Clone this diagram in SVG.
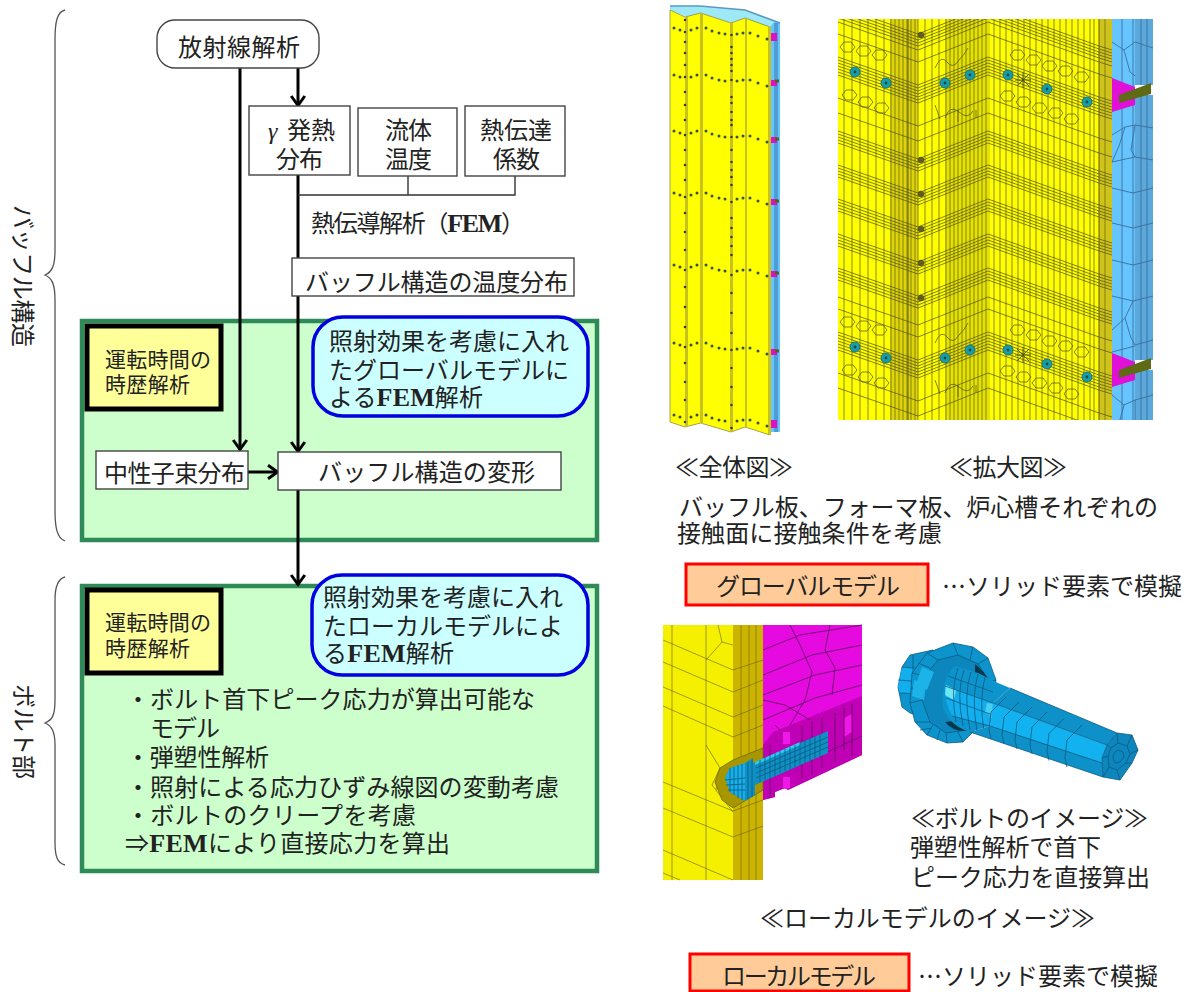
<svg xmlns="http://www.w3.org/2000/svg" xmlns:xlink="http://www.w3.org/1999/xlink" width="1194" height="992" viewBox="0 0 1194 992">
<style>
text{font-family:"Noto Sans CJK JP","Noto Sans CJK SC",sans-serif;font-size:24px;fill:#222}
.s{font-family:"Liberation Serif","Noto Sans CJK JP",serif;font-weight:bold;font-size:26px}
.m{font-size:21px}
.box{fill:#fff;stroke:#444;stroke-width:1.4}
.frame{fill:#ccffcc;stroke:#2e8b57;stroke-width:4.5}
.yb{fill:#ffff99;stroke:#000;stroke-width:5}
.bb{fill:#ccffff;stroke:#0000e0;stroke-width:3.5}
.rb{fill:#ffcc99;stroke:#f00;stroke-width:3}
.brace{fill:none;stroke:#555;stroke-width:1.3}
.flow{fill:none;stroke:#000;stroke-width:3}
.thin{fill:none;stroke:#333;stroke-width:1.4}
.ml{fill:none;stroke:#55531a;stroke-width:.9;stroke-opacity:.8}
.mv{fill:none;stroke:#7f7d12;stroke-width:1.3;stroke-opacity:.7}
.mb{fill:none;stroke:#3d6f9a;stroke-width:.9}
.mm{fill:none;stroke:#6a0a6a;stroke-width:.9}
.bl{fill:none;stroke:#0a5c82;stroke-width:.8}
</style>
<defs>
<marker id="ah" markerUnits="userSpaceOnUse" markerWidth="18" markerHeight="18" refX="13" refY="9" orient="auto" overflow="visible">
<path d="M3 2.2L12.5 9L3 15.8" fill="none" stroke="#000" stroke-width="3"/>
</marker>
<clipPath id="cz"><rect x="838" y="19" width="315" height="401"/></clipPath>
<g id="bundleLine"><polyline class="ml" points="838,-28 918,0 988,-28 1099,12 1112,16"/></g>
<g id="bundle">
<use xlink:href="#bundleLine" y="-6"/><use xlink:href="#bundleLine" y="-3"/><use xlink:href="#bundleLine"/><use xlink:href="#bundleLine" y="3"/><use xlink:href="#bundleLine" y="6"/>
</g>
<path id="hex" class="ml" d="M0 0l4-5 7 0 4 5-4 5-7 0z"/>
<g id="bolt"><circle r="5" fill="#149fa8" stroke="#2a6f70" stroke-width="1"/><circle r="1.400" fill="#26464a"/></g>
<g id="boltRow">
<use xlink:href="#bundle" y="94"/><use xlink:href="#bundleLine" y="103"/><use xlink:href="#bundleLine" y="85"/>
<use xlink:href="#bundleLine" y="62"/><use xlink:href="#bundleLine" y="126"/><use xlink:href="#bundleLine" y="141"/><use xlink:href="#bundleLine" y="50"/>
<use xlink:href="#hex" x="840" y="47"/><use xlink:href="#hex" x="856" y="51"/><use xlink:href="#hex" x="872" y="55"/>
<use xlink:href="#hex" x="842" y="95"/><use xlink:href="#hex" x="858" y="102"/><use xlink:href="#hex" x="874" y="108"/>
<use xlink:href="#hex" x="1010" y="55"/><use xlink:href="#hex" x="1026" y="60"/><use xlink:href="#hex" x="1042" y="66"/><use xlink:href="#hex" x="1058" y="71"/><use xlink:href="#hex" x="1074" y="77"/>
<use xlink:href="#hex" x="1000" y="96"/><use xlink:href="#hex" x="1016" y="102"/><use xlink:href="#hex" x="1032" y="108"/><use xlink:href="#hex" x="1048" y="113"/><use xlink:href="#hex" x="1064" y="119"/>
<path class="ml" d="M935 68q6-14 12-6t12-2q6-6 9-12M935 105q3 8 5 14M945 118q5-14 14-6t14-1M958 110v12M976 110v8"/>
<use xlink:href="#bolt" x="855" y="72"/><use xlink:href="#bolt" x="886" y="83"/><use xlink:href="#bolt" x="945" y="83"/><use xlink:href="#bolt" x="970" y="75"/><use xlink:href="#bolt" x="1008" y="75"/><use xlink:href="#bolt" x="1047" y="89"/><use xlink:href="#bolt" x="1087" y="102"/>
<path d="M1023 72v16M1015 80h16M1017 74l12 12M1029 74l-12 12" stroke="#4a4a20" stroke-width=".8"/>
<path d="M1112 78L1135 87V105L1112 112Z" fill="#e010d8"/>
<path d="M1135 85H1153V95H1135Z" fill="#fff"/>
<path d="M1119 95L1151 83V94L1119 103Z" fill="#5f6a14"/>
</g>
<path id="ring" class="bl" d="M1082 725L1067 740L1065 758L1067 767"/>
</defs>

<g id="frames">
<rect id="frame-global" class="frame" x="82" y="321" width="515" height="219"/>
<rect id="frame-local" class="frame" x="82" y="586" width="515" height="285"/>
</g>

<g id="connectors">
<path class="flow" d="M298 68V106" marker-end="url(#ah)"/>
<path class="flow" d="M240 68V450" marker-end="url(#ah)"/>
<path class="flow" d="M298 175V452" marker-end="url(#ah)"/>
<path class="flow" d="M298 490V585" marker-end="url(#ah)"/>
<path class="flow" d="M248 472H278" marker-end="url(#ah)"/>
<path class="thin" d="M298 195H515V176M408 195V176"/>
</g>

<g id="brace-baffle"><path class="brace" d="M65 10C57 12 55 22 55 40V250C55 266 52 272 45 275C52 278 55 284 55 300V510C55 528 57 538 65 541"/>
<text transform="translate(14 205) rotate(90)" textLength="142">バッフル構造</text></g>
<g id="brace-bolt"><path class="brace" d="M65 577C57 579 55 589 55 600V700C55 716 52 720 45 723C52 726 55 732 55 745V842C55 856 57 863 65 865"/>
<text transform="translate(15 684) rotate(90)" textLength="95">ボルト部</text></g>

<g id="n-radiation"><rect class="box" x="157" y="20" width="162" height="48" rx="18"/><text x="178" y="56" textLength="122">放射線解析</text></g>
<g id="n-gamma"><rect class="box" x="249" y="106" width="101" height="69"/><text x="268" y="139" font-family="Liberation Serif" font-style="italic" style="font-family:'Liberation Serif',serif">γ</text><text x="287" y="139" textLength="48">発熱</text><text x="276" y="168" textLength="47">分布</text></g>
<g id="n-fluid"><rect class="box" x="358" y="108" width="99" height="68"/><text x="385" y="139" textLength="47">流体</text><text x="385" y="168" textLength="47">温度</text></g>
<g id="n-coef"><rect class="box" x="465" y="106" width="100" height="70"/><text x="480" y="139" textLength="72">熱伝達</text><text x="493" y="168" textLength="47">係数</text></g>
<g id="l-fem"><text x="311" y="232" textLength="214">熱伝導解析（<tspan class="s">FEM</tspan>）</text></g>
<g id="n-temp"><rect class="box" x="292" y="258" width="282" height="38"/><text x="305" y="291" textLength="263">バッフル構造の温度分布</text></g>

<g id="n-time1"><rect class="yb" x="87" y="326" width="134" height="83"/><text class="m" x="105" y="367" textLength="106">運転時間の</text><text class="m" x="105" y="392" textLength="85">時歴解析</text></g>
<g id="n-fem1"><rect class="bb" x="313" y="317" width="275" height="99" rx="30"/><text x="329" y="350" textLength="240">照射効果を考慮に入れ</text><text x="329" y="379" textLength="240">たグローバルモデルに</text><text x="329" y="406" textLength="154">よる<tspan class="s">FEM</tspan>解析</text></g>
<g id="n-flux"><rect class="box" x="96" y="451" width="152" height="38"/><text x="104" y="482" textLength="141">中性子束分布</text></g>
<g id="n-deform"><rect class="box" x="278" y="452" width="283" height="38"/><text x="318" y="481" textLength="217">バッフル構造の変形</text></g>

<g id="n-time2"><rect class="yb" x="87" y="590" width="134" height="83"/><text class="m" x="105" y="630" textLength="106">運転時間の</text><text class="m" x="105" y="656" textLength="85">時歴解析</text></g>
<g id="n-fem2"><rect class="bb" x="312" y="575" width="276" height="100" rx="30"/><text x="323" y="606" textLength="240">照射効果を考慮に入れ</text><text x="323" y="635" textLength="240">たローカルモデルによ</text><text x="323" y="662" textLength="131">る<tspan class="s">FEM</tspan>解析</text></g>
<g id="n-notes">
<text x="126" y="708" textLength="409">・ボルト首下ピーク応力が算出可能な</text>
<text x="150" y="737" textLength="70">モデル</text>
<text x="126" y="766" textLength="143">・弾塑性解析</text>
<text x="126" y="796" textLength="433">・照射による応力ひずみ線図の変動考慮</text>
<text x="126" y="824" textLength="290">・ボルトのクリープを考慮</text>
<text x="125" y="852" textLength="325">⇒<tspan class="s">FEM</tspan>により直接応力を算出</text>
</g>

<g id="img-global-whole">
<path d="M670 7L700 9L731 10L770 20L780 23V432H770V27Z" fill="#66c4ff"/>
<path d="M670 10L687 17L700.500 13L731 23L745 18L770 27L775 21L745 10L700 6L670 6Z" fill="#9fe8f5"/>
<path d="M670 6L700 6L745 10L780 23" fill="none" stroke="#5a9ac0" stroke-width="1.600"/>
<path d="M670 10L685 17L700.500 13L731 23L745 18L770 27V435L745 427L731 432L700.500 423L685 427L670 422Z" fill="#ffff00" stroke="#8a8a50" stroke-width=".8"/>
<path d="M685 17L688 17L688 426L685 427ZM700 13L703 14V424L700 423ZM730 22L733 23V431L730 432ZM745 18L747 19V428L745 427ZM768 26L771 27V435L768 434Z" fill="#c8c220"/>
<path d="M776 23V432" stroke="#4e9ed6" stroke-width="4"/>
<path d="M771 33h6v8h-6zM771 80h6v6h-6zM771 137h6v6h-6zM771 199h6v6h-6zM771 271h6v6h-6zM771 349h6v6h-6zM771 420h6v8h-6z" fill="#e010c8"/>
<path d="M775 81h4M775 139h4M775 201h4M775 273h4M775 351h4" stroke="#556010" stroke-width="3"/>
<path id="rd" d="M674 28h0M680 30h0M691 30h0M697 28h0M706 28h0M712 31h0M719 33h0M725 34h0M737 34h0M743 33h0M750 33h0M758 36h0M767 39h0" stroke="#36524a" stroke-width="3" stroke-linecap="round"/>
<use xlink:href="#rd" y="47"/><use xlink:href="#rd" y="103"/><use xlink:href="#rd" y="165"/><use xlink:href="#rd" y="237"/><use xlink:href="#rd" y="315"/><use xlink:href="#rd" y="387"/>
<path d="M685 20h0M685 32h0M685 42h0M685 53h0M685 65h0M685 77h0M685 92h0M685 105h0M685 120h0M685 135h0M685 150h0M685 165h0M685 180h0M685 197h0M685 213h0M685 232h0M685 250h0M685 270h0M685 287h0M685 307h0M685 327h0M685 347h0M685 363h0M685 382h0M685 400h0M685 422h0M731.500 35h0M731.500 47h0M731.500 53h0M731.500 59h0M731.500 65h0M731.500 71h0M731.500 80h0M731.500 97h0M731.500 103h0M731.500 112h0M731.500 120h0M731.500 125h0M731.500 137h0M731.500 150h0M731.500 162h0M731.500 170h0M731.500 177h0M731.500 185h0M731.500 202h0M731.500 218h0M731.500 228h0M731.500 237h0M731.500 246h0M731.500 255h0M731.500 275h0M731.500 293h0M731.500 313h0M731.500 333h0M731.500 350h0M731.500 368h0M731.500 387h0M731.500 405h0M731.500 428h0" stroke="#3a3a30" stroke-width="2.600" stroke-linecap="round"/>
</g>

<g id="img-global-zoom" clip-path="url(#cz)">
<rect x="838" y="19" width="274" height="401" fill="#ffff00"/>
<rect x="892" y="19" width="26" height="401" fill="#dfd40a"/>
<rect x="945" y="19" width="45" height="401" fill="#e6e200"/>
<rect x="1099" y="19" width="13" height="401" fill="#cfc21a"/>
<path class="mv" d="M844 19V420M852 19V420M860 19V420M868 19V420M876 19V420M884 19V420M895 19V420M899 19V420M903 19V420M907 19V420M911 19V420M915 19V420M918 19V420M925 19V420M932 19V420M939 19V420M946 19V420M950 19V420M954 19V420M958 19V420M962 19V420M966 19V420M970 19V420M974 19V420M978 19V420M982 19V420M986 19V420M994 19V420M1000 19V420M1006 19V420M1012 19V420M1018 19V420M1024 19V420M1030 19V420M1036 19V420M1042 19V420M1048 19V420M1054 19V420M1060 19V420M1066 19V420M1072 19V420M1078 19V420M1084 19V420M1090 19V420M1094 19V420M1105 19V420"/>
<path d="M891 19V420M908 19V420M1099 19V420" stroke="#5c5a20" stroke-width="1"/>
<rect x="1112" y="19" width="23" height="401" fill="#66c4ff"/>
<rect x="1135" y="19" width="18" height="401" fill="#5aa8dc"/>
<path class="mb" d="M1133 19V420M1141 19V420M1147 19V420M1122 19V420M1112 42L1124 50L1135 42L1153 48M1124 50L1130 72L1135 76M1112 135L1125 127L1135 125L1153 128M1125 127L1119 146L1112 162M1135 125L1131 150L1135 157L1153 160M1112 162L1135 157M1112 188L1133 193L1153 188M1112 223L1133 228L1153 223M1112 260L1133 265L1153 260M1112 296L1133 301L1153 296M1112 330L1125 318L1133 301M1125 318L1131 338L1135 345L1153 340M1112 352L1135 346M1112 395L1124 405L1135 400L1153 395M1124 405L1120 420M1135 400V420"/>
<g id="rows"><use xlink:href="#bundle" y="40"/><use xlink:href="#bundle" y="165"/><use xlink:href="#bundle" y="199"/><use xlink:href="#bundle" y="233"/><use xlink:href="#bundle" y="268"/><use xlink:href="#bundle" y="302"/></g>
<use xlink:href="#boltRow"/><use xlink:href="#boltRow" y="275"/>
<g fill="#4a4828" fill-opacity=".85"><circle cx="921" cy="35" r="3.200"/><circle cx="921" cy="160" r="3.200"/><circle cx="921" cy="194" r="3.200"/><circle cx="921" cy="229" r="3.200"/><circle cx="921" cy="263" r="3.200"/><circle cx="921" cy="298" r="3.200"/></g>
</g>

<g id="img-local">
<rect x="663" y="625" width="70" height="255" fill="#f5f000"/>
<rect x="733" y="625" width="30" height="255" fill="#cdb400"/>
<path d="M763 625H862V755L788 790L785 788L775 792V797L763 800Z" fill="#e50adf"/>
<path d="M763 745L773 732L857 698L862 696V755L788 790L785 788L775 792V797L763 800Z" fill="#c000b4"/>
<path d="M783 732h7v12h-7zM783 777h7v11l-5 1-2-1zM844 718l8-4v18l-8 5z" fill="#f018e8"/>
<path class="mm" d="M763 650L800 635L862 625M763 675L812 655L862 645M763 695L815 675L862 665M763 720L815 698L862 685M790 625L800 645L812 672L805 700L790 725M830 625L825 650L835 668L832 695M763 700L785 705L810 720M775 725L780 730M802 726V778M812 722V774M822 718V768M835 713V762M844 708V750M852 704V756M788 770L862 736M770 745V798"/>
<path d="M663 640L733 670M663 662L733 692M663 687L733 717M663 706L733 737M663 782L733 811M663 808L733 837M663 850L733 880M663 873L680 880M672 625V880M706 625V880M733 670L763 660M733 692L763 680M733 717L763 705M733 737L763 725M733 811L763 800M733 837L763 826M741 625V880M749 625V880M756 625V880M718 625L722 642L706 660M722 642L733 645M706 745L720 768L712 785L733 812M720 768L716 790" fill="none" stroke="#6d6a10" stroke-width=".8" stroke-opacity=".8"/>
<path d="M715 782L720 768L733 760L763 748V790L733 808L722 800Z" fill="#a89600" stroke="#6d6a10" stroke-width=".8"/>
<path d="M725 777L730 768L745 763L753 758L753 763L828 731V753L755 785V795L745 801L730 792Z" fill="#0f8fc4"/>
<path d="M725 777L730 768L745 763V801L730 792Z" fill="#18aee8"/>
<path d="M755 762L800 742V745L755 765Z" fill="#30c8ee"/>
<path class="bl" d="M730 768V792M734 767V795M738 765V798M742 764V800M748 762V799M752 760V797M760 760V782M765 757V780M770 755V778M775 753V776M780 751V773M785 749V771M790 747V769M795 745V767M800 742V765M805 740V763M810 738V761M815 736V759M820 734V757M725 780L745 778M726 785L745 784M728 790L745 790M756 768L828 737M756 773L828 742M756 778L828 747"/>
</g>

<g id="img-bolt">
<path d="M933 650L910 655L902 667L898 687L902 707L910 713L935 720Z" fill="#0e94cc" stroke="#0a5c82" stroke-width=".8"/>
<path d="M902 667L898 687L900 693L935 695L935 670Z" fill="#12aeee"/>
<path d="M918 668L934 672L930 693L918 692Z" fill="#2cc4f4"/>
<path class="bl" d="M898 680L935 683M902 667L935 670M900 693L935 695M913 655V713"/>
<path d="M953 643L973 647L988 658L996 680L990 712L972 733L963 742L947 743L927 735L915 722L910 703L912 673L927 653Z" fill="#0e94cc" stroke="#0a5c82" stroke-width=".8"/>
<path d="M938 660L958 655L978 664L990 682L984 712L968 730L946 733L930 722L922 700L925 676Z" fill="#0c86bc" stroke="#0a5c82" stroke-width=".8"/>
<path d="M912 673L925 676M910 703L922 700M915 722L930 722M927 735L933 725M947 743L946 733M963 742L958 732M972 733L968 730M927 653L938 660M953 643L958 655M973 647L970 660M988 658L978 664M996 680L990 682M918 663L930 668M911 688L923 688M920 730L932 728M937 740L940 730" class="bl"/>
<path d="M914 680L926 684L924 700L912 696ZM922 667L934 672L927 690L916 684Z" fill="#1cb4e8"/>
<path d="M975 664Q985 672 990 682L975 676ZM945 722Q955 734 972 730L962 720Z" fill="#08384e"/>
<path d="M955 666L978 673L998 683L1010 688L993 703L990 726L970 732Q950 726 943 708Q940 680 955 666Z" fill="#0e94cc"/>
<path d="M945 686L993 703L990 726L952 716Q944 700 945 686Z" fill="#12aeee"/>
<path d="M946 685L956 690L954 700L945 695Z" fill="#6fe6f0"/>
<path d="M987 703L993 704L991 716L985 712Z" fill="#48d0ee"/>
<path class="bl" d="M958 668Q950 690 956 722M964 670Q956 692 963 726M971 672Q963 695 970 730M978 674Q971 697 977 731M985 677Q979 700 984 731M948 676L993 692M945 686L993 703M946 698L990 714M952 716L990 726"/>
<path d="M1010 688L1117 733L1107 745L993 703Z" fill="#0e90c8"/>
<path d="M993 703L1107 745L1102 758L1103 777L990 726Z" fill="#12b2f0"/>
<path d="M990 726L1102 763L1103 777L970 732Z" fill="#0e90c8"/>
<path class="bl" d="M1010 688L1117 733M993 703L1107 745M990 726L1102 763M970 732L1103 777"/>
<use xlink:href="#ring" x="-76" y="-28"/><use xlink:href="#ring" x="-63" y="-23"/><use xlink:href="#ring" x="-50" y="-18"/><use xlink:href="#ring" x="-35" y="-13"/><use xlink:href="#ring" x="-18" y="-6.500"/><use xlink:href="#ring"/>
<path d="M1117 733L1132 735L1138 750L1132 763L1120 780L1103 777L1102 758L1107 745Z" fill="#0c86bc" stroke="#0a5c82" stroke-width=".8"/>
<path class="bl" d="M1118 743L1127 746L1130 754L1126 763L1117 770L1109 767L1108 756L1111 748ZM1117 733L1118 743M1132 735L1127 746M1138 750L1130 754M1132 763L1126 763M1120 780L1117 770M1103 777L1109 767M1102 758L1108 756M1107 745L1111 748M1118 750L1123 752L1124 757L1120 762L1115 763L1113 758L1114 753Z"/>
</g>

<g id="captions">
<text x="675" y="476" textLength="118">≪全体図≫</text>
<text x="949" y="476" textLength="118">≪拡大図≫</text>
<text x="679" y="516" textLength="479">バッフル板、フォーマ板、炉心槽それぞれの</text>
<text x="677" y="542" textLength="265">接触面に接触条件を考慮</text>
<text x="942" y="595" textLength="240">…ソリッド要素で模擬</text>
<text x="911" y="827" textLength="237">≪ボルトのイメージ≫</text>
<text x="910" y="856" textLength="191">弾塑性解析で首下</text>
<text x="911" y="886" textLength="239">ピーク応力を直接算出</text>
<text x="760" y="927" textLength="335">≪ローカルモデルのイメージ≫</text>
<text x="918" y="985" textLength="240">…ソリッド要素で模擬</text>
</g>
<g id="n-global"><rect class="rb" x="686" y="564" width="242" height="41"/><text x="716" y="595" textLength="184">グローバルモデル</text></g>
<g id="n-local"><rect class="rb" x="690" y="954" width="219" height="37"/><text x="722" y="985" textLength="154">ローカルモデル</text></g>
</svg>
